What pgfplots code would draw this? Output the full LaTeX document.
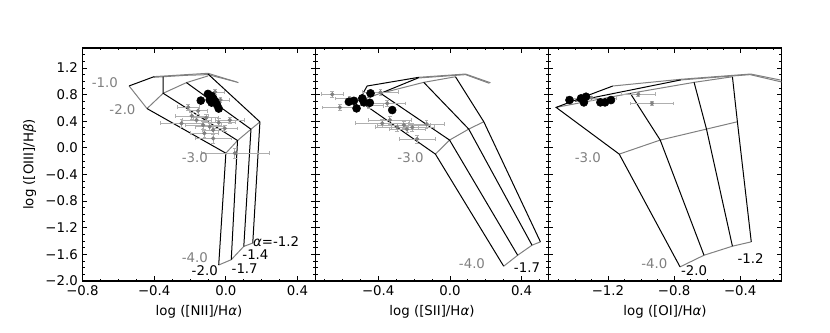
\documentclass[border=0pt]{standalone}
\usepackage{fontspec}
\setmainfont{DejaVu Sans}
\usepackage{pgfplots}
\pgfplotsset{compat=1.18}

\definecolor{mgray}{RGB}{128,128,128}
\definecolor{egray}{RGB}{175,175,175}

\pgfplotsset{
  bpt/.style={
    scale only axis, width=174.75pt, height=174.75pt, anchor=south west,
    ymin=-2.0, ymax=1.5,
    ytick={-2.0,-1.6,-1.2,-0.8,-0.4,0,0.4,0.8,1.2},
    minor ytick={-1.9,-1.8,-1.7,-1.5,-1.4,-1.3,-1.1,-1.0,-0.9,-0.7,-0.6,-0.5,-0.3,-0.2,-0.1,0.1,0.2,0.3,0.5,0.6,0.7,0.9,1.0,1.1,1.3,1.4},
    tick align=inside, major tick length=3.5pt, minor tick length=1.8pt,
    axis line style={line width=0.8pt},
    every tick/.style={black, line width=0.6pt},
    tick label style={font=\normalsize},
    label style={font=\normalsize},
  },
  agrid/.style={black, line width=0.75pt, mark=none},
  ugrid/.style={mgray, line width=0.75pt, mark=none},
  obs/.style={only marks, mark=*, mark size=1.4pt, color=mgray,
    error bars/.cd, x dir=both, x explicit, y dir=both, y explicit,
    error bar style={egray, line width=0.6pt}},
  kn/.style={only marks, mark=*, mark size=3pt, black},
}

\begin{document}
\begin{tikzpicture}
\path[use as bounding box] (0,0) rectangle (622.5pt,249pt);

% ---- [NII]/Ha
\begin{axis}[bpt, at={(61.875pt,38.25pt)},
  xmin=-0.8, xmax=0.5,
  xtick={-0.8,-0.4,0,0.4}, xticklabels={−0.8,−0.4,0.0,0.4},
  minor xtick={-0.7,-0.6,-0.5,-0.3,-0.2,-0.1,0.1,0.2,0.3,0.5},
  yticklabels={−2.0,−1.6,−1.2,−0.8,−0.4,0.0,0.4,0.8,1.2},
  xlabel={log ([NII]/H\textit{α})}, ylabel={log ([OIII]/H\textit{β})}]
  % constant U (gray)
  \addplot[ugrid] coordinates {(-0.40,1.07) (-0.22,1.10) (-0.10,1.12) (0.07,0.98)};
  \addplot[ugrid] coordinates {(-0.40,1.06) (-0.22,1.09) (-0.10,1.10) (0.06,0.99)};
  \addplot[ugrid] coordinates {(-0.54,0.93) (-0.44,0.59)};
  \addplot[ugrid] coordinates {(-0.44,0.59) (-0.35,0.82) (-0.22,0.98) (-0.10,1.08)};
  \addplot[ugrid] coordinates {(0.0,-0.08) (0.065,0.11) (0.14,0.28) (0.19,0.39)};
  \addplot[ugrid] coordinates {(-0.04,-1.76) (0.03,-1.68) (0.10,-1.48) (0.15,-1.43)};
  % constant alpha (black)
  \addplot[agrid] coordinates {(-0.40,1.07) (-0.54,0.93)};
  \addplot[agrid] coordinates {(-0.44,0.59) (0.0,-0.08) (-0.04,-1.76)};
  \addplot[agrid] coordinates {(-0.35,1.07) (-0.35,0.82) (0.065,0.11) (0.03,-1.68)};
  \addplot[agrid] coordinates {(-0.22,0.98) (0.14,0.28) (0.10,-1.48)};
  \addplot[agrid] coordinates {(-0.10,1.11) (0.19,0.39) (0.15,-1.43)};
  % observations
  \addplot[obs] table[x error=ex, y error=ey] {
    x y ex ey
    -0.155 0.557 0.05 0.05
    -0.248 0.368 0.12 0.06
    -0.164 0.417 0.08 0.05
    -0.127 0.342 0.10 0.06
    -0.090 0.317 0.08 0.05
    -0.071 0.267 0.06 0.06
    -0.006 0.292 0.07 0.05
     0.022 0.417 0.08 0.05
    -0.071 0.142 0.10 0.08
     0.050 -0.08 0.19 0.08
    -0.210 0.610 0.06 0.04
    -0.060 0.840 0.05 0.04
    -0.190 0.480 0.09 0.05
    -0.110 0.450 0.07 0.05
    -0.040 0.380 0.09 0.06
    -0.120 0.220 0.08 0.06
    -0.030 0.720 0.05 0.04
  };
  \addplot[kn] coordinates {(-0.14,0.71) (-0.10,0.81) (-0.08,0.78) (-0.07,0.74) (-0.09,0.72) (-0.06,0.70) (-0.05,0.65) (-0.04,0.59) (-0.08,0.68)};
  \node[mgray] at (axis cs:-0.675,0.98) {-1.0};
  \node[mgray] at (axis cs:-0.577,0.57) {-2.0};
  \node[mgray] at (axis cs:-0.173,-0.14) {-3.0};
  \node[mgray] at (axis cs:-0.173,-1.65) {-4.0};
  \node at (axis cs:-0.118,-1.84) {-2.0};
  \node at (axis cs:0.105,-1.82) {-1.7};
  \node at (axis cs:0.165,-1.61) {-1.4};
  \node at (axis cs:0.28,-1.41) {\textit{α}=-1.2};
\end{axis}

% ---- [SII]/Ha
\begin{axis}[bpt, at={(236.625pt,38.25pt)},
  xmin=-0.75, xmax=0.55,
  xtick={-0.4,0,0.4}, xticklabels={−0.4,0.0,0.4},
  minor xtick={-0.7,-0.6,-0.5,-0.3,-0.2,-0.1,0.1,0.2,0.3,0.5},
  yticklabels={},
  xlabel={log ([SII]/H\textit{α})}]
  \addplot[ugrid] coordinates {(-0.173,1.06) (0.087,1.109) (0.226,0.978)};
  \addplot[ugrid] coordinates {(-0.173,1.05) (0.087,1.10) (0.22,0.97)};
  \addplot[ugrid] coordinates {(-0.508,0.708) (-0.387,0.819) (-0.146,0.984) (0.031,1.068)};
  \addplot[ugrid] coordinates {(-0.081,-0.094) (-0.002,0.117) (0.105,0.282) (0.189,0.392)};
  \addplot[ugrid] coordinates {(0.300,-1.778) (0.378,-1.613) (0.458,-1.462) (0.505,-1.412)};
  \addplot[agrid] coordinates {(-0.173,1.06) (-0.462,0.929) (-0.508,0.708) (-0.081,-0.094) (0.300,-1.778)};
  \addplot[agrid] coordinates {(-0.173,1.055) (-0.387,0.819) (-0.002,0.117) (0.378,-1.613)};
  \addplot[agrid] coordinates {(-0.146,0.984) (0.105,0.282) (0.458,-1.462)};
  \addplot[agrid] coordinates {(0.031,1.068) (0.189,0.392) (0.505,-1.412)};
  \addplot[obs] table[x error=ex, y error=ey] {
    x y ex ey
    -0.657 0.804 0.06 0.04
    -0.614 0.608 0.10 0.04
    -0.453 0.632 0.08 0.04
    -0.387 0.834 0.10 0.04
    -0.350 0.668 0.10 0.04
    -0.378 0.368 0.15 0.06
    -0.335 0.417 0.12 0.06
    -0.294 0.308 0.12 0.06
    -0.257 0.342 0.15 0.05
    -0.210 0.308 0.12 0.06
    -0.130 0.357 0.10 0.06
    -0.183 0.132 0.10 0.06
    -0.560 0.740 0.08 0.04
    -0.240 0.280 0.10 0.05
  };
  \addplot[kn] coordinates {(-0.564,0.692) (-0.536,0.707) (-0.521,0.593) (-0.489,0.744) (-0.480,0.683) (-0.443,0.819) (-0.447,0.677) (-0.322,0.568)};
  \node[mgray] at (axis cs:-0.22,-0.14) {-3.0};
  \node[mgray] at (axis cs:0.123,-1.74) {-4.0};
  \node at (axis cs:0.43,-1.80) {-1.7};
\end{axis}

% ---- [OI]/Ha
\begin{axis}[bpt, at={(411.375pt,38.25pt)},
  xmin=-1.56, xmax=-0.15,
  xtick={-1.2,-0.8,-0.4}, xticklabels={−1.2,−0.8,−0.4},
  minor xtick={-1.5,-1.4,-1.3,-1.1,-1.0,-0.9,-0.7,-0.6,-0.5,-0.3,-0.2},
  yticklabels={},
  xlabel={log ([OI]/H\textit{α})}]
  \addplot[ugrid] coordinates {(-1.171,0.929) (-0.76,1.03) (-0.337,1.109) (-0.156,1.019)};
  \addplot[ugrid] coordinates {(-0.76,1.02) (-0.34,1.10) (-0.15,0.99)};
  \addplot[ugrid] coordinates {(-1.514,0.608) (-1.065,0.819) (-0.679,0.984) (-0.447,1.068)};
  \addplot[ugrid] coordinates {(-1.132,-0.094) (-0.884,0.117) (-0.604,0.282) (-0.417,0.392)};
  \addplot[ugrid] coordinates {(-0.764,-1.788) (-0.619,-1.613) (-0.447,-1.477) (-0.333,-1.412)};
  \addplot[agrid] coordinates {(-1.171,0.929) (-1.514,0.608) (-1.132,-0.094) (-0.764,-1.788)};
  \addplot[agrid] coordinates {(-1.065,0.819) (-0.884,0.117) (-0.619,-1.613)};
  \addplot[agrid] coordinates {(-0.679,0.984) (-0.604,0.282) (-0.447,-1.477)};
  \addplot[agrid] coordinates {(-0.447,1.068) (-0.417,0.392) (-0.333,-1.412)};
  \addplot[agrid] coordinates {(-1.400,0.70) (-0.76,1.02)};
  \addplot[obs] table[x error=ex, y error=ey] {
    x y ex ey
    -1.017 0.804 0.10 0.03
    -0.934 0.668 0.13 0.03
    -1.300 0.750 0.15 0.03
  };
  \addplot[kn] coordinates {(-1.433,0.718) (-1.363,0.744) (-1.346,0.683) (-1.333,0.768) (-1.246,0.683) (-1.218,0.683) (-1.182,0.718)};
  \node[mgray] at (axis cs:-1.322,-0.14) {-3.0};
  \node[mgray] at (axis cs:-0.92,-1.74) {-4.0};
  \node at (axis cs:-0.679,-1.84) {-2.0};
  \node at (axis cs:-0.337,-1.66) {-1.2};
\end{axis}
\end{tikzpicture}
\end{document}
